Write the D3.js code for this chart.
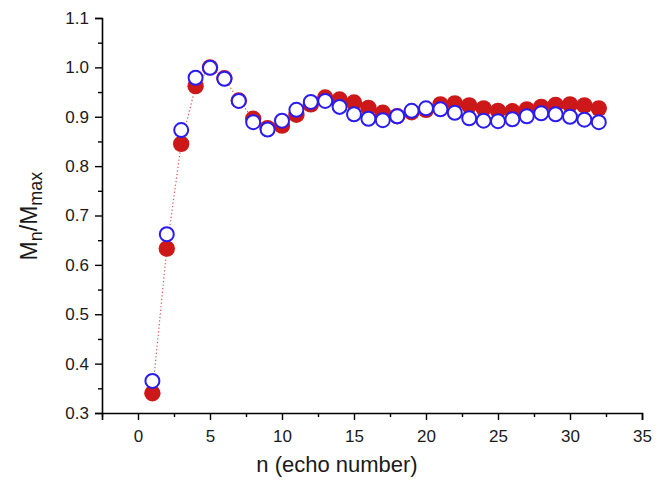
<!DOCTYPE html>
<html><head><meta charset="utf-8">
<script src="https://cdn.jsdelivr.net/npm/d3@7"></script>
<style>body{margin:0;background:#fff}svg{display:block}text{font-family:"Liberation Sans",Arial,sans-serif}</style>
</head><body><svg id="c" width="667" height="483"></svg>
<script>
const echoN = d3.range(1, 33);
const redValues = [0.340,0.633,0.845,0.962,1.000,0.978,0.933,0.896,0.877,0.882,0.904,0.925,0.939,0.935,0.929,0.918,0.908,0.901,0.909,0.914,0.925,0.927,0.923,0.917,0.912,0.911,0.915,0.920,0.924,0.925,0.923,0.917];
const blueValues = [0.365,0.662,0.873,0.979,0.999,0.977,0.932,0.889,0.874,0.892,0.914,0.930,0.932,0.920,0.905,0.896,0.893,0.901,0.912,0.917,0.915,0.908,0.897,0.892,0.891,0.895,0.901,0.907,0.905,0.900,0.894,0.889];
const xTicks = [0,5,10,15,20,25,30,35];
const yTicks = [0.3,0.4,0.5,0.6,0.7,0.8,0.9,1.0,1.1];

const svg = d3.select("#c");
const x = d3.scaleLinear().domain([-2.5, 35]).range([102, 642]);
const y = d3.scaleLinear().domain([0.3, 1.1]).range([413, 18]);

// axes
const xMinor = d3.range(-2.5, 35, 5);
const yMinor = d3.range(0.35, 1.1, 0.1);
const gx = svg.append("g").attr("transform","translate(0,413)");
gx.call(d3.axisBottom(x).tickValues(xTicks).tickSize(7).tickPadding(7).tickFormat(d3.format("d")));
gx.append("g").call(d3.axisBottom(x).tickValues(xMinor).tickSize(4).tickFormat(""));
const gy = svg.append("g").attr("transform","translate(102,0)");
gy.call(d3.axisLeft(y).tickValues(yTicks).tickSize(7).tickPadding(6).tickFormat(d3.format(".1f")));
gy.append("g").call(d3.axisLeft(y).tickValues(yMinor).tickSize(4).tickFormat(""));
svg.selectAll(".domain").attr("stroke","#000").attr("stroke-width",1.6);
svg.selectAll(".tick line").attr("stroke","#000").attr("stroke-width",1.4);
svg.selectAll(".tick text").attr("font-size",17).attr("fill","#1a1a1a");
gx.selectAll("g > g > path.domain").remove();
gy.selectAll("g > g > path.domain").remove();
gx.selectAll(".tick text").attr("dy","0.9em");

// red dotted line
const line = d3.line().x((d,i)=>x(echoN[i])).y(d=>y(d));
svg.append("path").datum(redValues).attr("d", line).attr("fill","none")
  .attr("stroke","#e05050").attr("stroke-width",1.2).attr("stroke-dasharray","1.2,2.4");

// red filled circles
svg.append("g").selectAll("circle").data(redValues).join("circle")
  .attr("cx",(d,i)=>x(echoN[i])).attr("cy",d=>y(d)).attr("r",8.2)
  .attr("fill","#cc1818");
// blue open circles
svg.append("g").selectAll("circle").data(blueValues).join("circle")
  .attr("cx",(d,i)=>x(echoN[i])).attr("cy",d=>y(d)).attr("r",7)
  .attr("fill","#fff").attr("stroke","#2a1cf0").attr("stroke-width",2);

// axis titles
svg.append("text").attr("x",337).attr("y",472).attr("text-anchor","middle")
  .attr("font-size",22).attr("fill","#1a1a1a").text("n (echo number)");
const yt = svg.append("text").attr("transform","translate(37,216) rotate(-90)")
  .attr("text-anchor","middle").attr("font-size",23).attr("fill","#1a1a1a");
yt.append("tspan").text("M");
yt.append("tspan").attr("font-size",18).attr("dy",5).text("n");
yt.append("tspan").attr("dy",-5).text("/M");
yt.append("tspan").attr("font-size",18).attr("dy",5).text("max");
</script></body></html>
